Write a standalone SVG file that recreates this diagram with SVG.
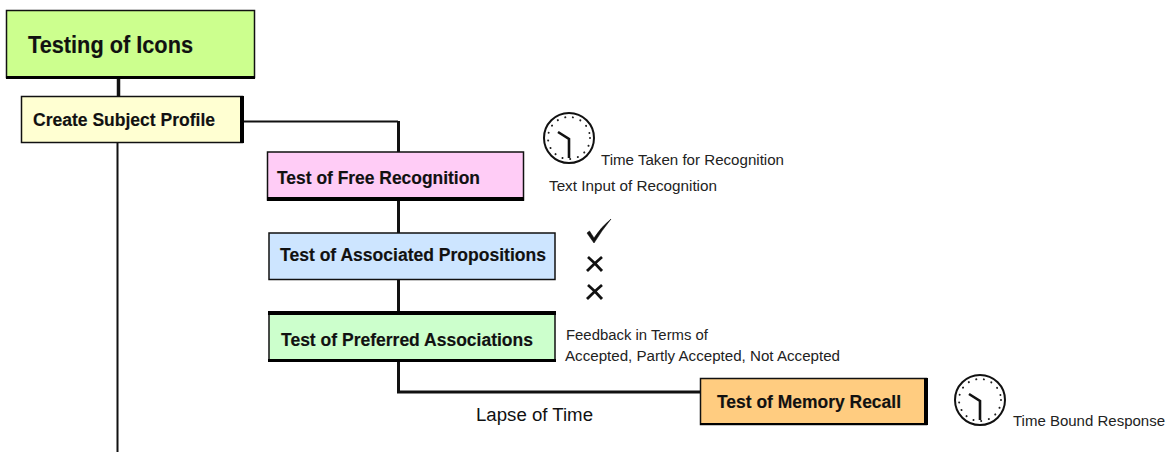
<svg xmlns="http://www.w3.org/2000/svg" width="1168" height="452" viewBox="0 0 1168 452">
<style>
text{font-family:"Liberation Sans",Arial,sans-serif;fill:#111}
.b{font-weight:bold;font-size:18px;stroke:#111;stroke-width:.15px}
.s{font-size:14px;fill:#222}
.n{stroke:#111;stroke-width:1.5px}
.sh{fill:#000}
.c{fill:none;stroke:#111}
.tick{stroke:#222;stroke-width:2;stroke-linecap:round;stroke-dasharray:0.1 7.77;fill:none}
</style>
<defs>
<g id="clock">
<circle cx="0" cy="0" r="25" fill="#fff" stroke="#111" stroke-width="2"/>
<circle cx="0" cy="0" r="21" class="tick"/>
<path d="M-11,-6 L0,1 L0,20" fill="none" stroke="#111" stroke-width="2.600"/>
</g>
<g id="cross"><path d="M-7,-7 Q0,-1 7,7 M7,-7 Q0,-1 -8,7" fill="none" stroke="#111" stroke-width="2.800"/></g>
</defs>
<rect width="1168" height="452" fill="#fff"/>
<g id="connectors">
<path class="c" stroke-width="3.500" d="M118.500,78 V96"/>
<path class="c" stroke-width="2" d="M117.500,143 V452"/>
<path class="c" stroke-width="2" d="M243,121.500 H398"/>
<path class="c" stroke-width="3" d="M398.500,121 V152"/>
<path class="c" stroke-width="3" d="M398.500,200 V233"/>
<path class="c" stroke-width="3" d="M398.500,280 V312"/>
<path class="c" stroke-width="3" d="M398.500,361 V392 H701"/>
</g>
<g id="node-icons"><rect x="6.500" y="10.500" width="248" height="67" fill="#ccff8e" class="n"/><rect class="sh" x="6" y="76" width="249" height="3"/><text class="b" x="28" y="53" style="font-size:23px" textLength="165" lengthAdjust="spacingAndGlyphs">Testing of Icons</text></g>
<g id="node-profile"><rect x="21.500" y="96.500" width="221" height="46" fill="#ffffd2" class="n"/><rect class="sh" x="240" y="96" width="4" height="47"/><text class="b" x="33" y="126" textLength="182" lengthAdjust="spacingAndGlyphs">Create Subject Profile</text></g>
<g id="node-free"><rect x="267.500" y="152" width="256" height="48" fill="#ffccf6" class="n"/><rect class="sh" x="267" y="197" width="257" height="4"/><text class="b" x="277" y="184" textLength="203" lengthAdjust="spacingAndGlyphs">Test of Free Recognition</text></g>
<g id="node-assoc"><rect x="269" y="233" width="286" height="46.500" fill="#cde5ff" class="n"/><text class="b" x="280" y="261" textLength="266" lengthAdjust="spacingAndGlyphs">Test of Associated Propositions</text></g>
<g id="node-pref"><rect x="269" y="313" width="286" height="48" fill="#ccffcc" class="n"/><rect class="sh" x="268" y="311" width="288" height="4"/><rect class="sh" x="268" y="359" width="288" height="3"/><text class="b" x="281" y="346" textLength="252" lengthAdjust="spacingAndGlyphs">Test of Preferred Associations</text></g>
<g id="node-memory"><rect x="700.500" y="378.500" width="226" height="46" fill="#ffcc80" class="n"/><rect class="sh" x="924" y="378" width="4" height="47"/><rect class="sh" x="700" y="423" width="228" height="2"/><text class="b" x="717" y="408" textLength="184" lengthAdjust="spacingAndGlyphs">Test of Memory Recall</text></g>
<g id="icons-free"><use href="#clock" x="569" y="138"/></g>
<g id="icons-assoc">
<path d="M587,233 L589.500,231 L594,238 Q601,227 611,219 Q602,230 594,243 Z" fill="#111" stroke="#111" stroke-width=".6"/>
<use href="#cross" x="595" y="264"/>
<use href="#cross" x="595" y="292"/>
</g>
<g id="icons-memory"><use href="#clock" x="980" y="400"/></g>
<g id="labels">
<text class="s" x="601" y="165" textLength="183" lengthAdjust="spacingAndGlyphs">Time Taken for Recognition</text>
<text class="s" x="549" y="191" textLength="168" lengthAdjust="spacingAndGlyphs">Text Input of Recognition</text>
<text class="s" x="566" y="340" textLength="142" lengthAdjust="spacingAndGlyphs">Feedback in Terms of</text>
<text class="s" x="565" y="361" textLength="275" lengthAdjust="spacingAndGlyphs">Accepted, Partly Accepted, Not Accepted</text>
<text x="476" y="421" style="font-size:18px" textLength="117" lengthAdjust="spacingAndGlyphs">Lapse of Time</text>
<text class="s" x="1013" y="426" textLength="152" lengthAdjust="spacingAndGlyphs">Time Bound Response</text>
</g>
</svg>
